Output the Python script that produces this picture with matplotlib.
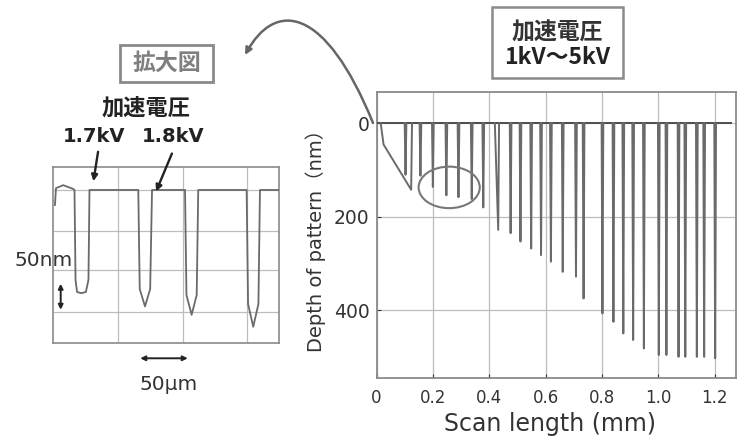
import matplotlib
matplotlib.use("Agg")
import matplotlib.pyplot as plt
from matplotlib.patches import Ellipse, Rectangle, FancyArrowPatch
from matplotlib.path import Path

# ---------------- data ----------------
# main chart: pattern positions (mm) and depths (nm)
spike_x = [0.103, 0.156, 0.200, 0.248, 0.291, 0.338, 0.379, 0.432, 0.476, 0.511,
           0.549, 0.584, 0.619, 0.661, 0.708, 0.735, 0.802, 0.841, 0.876, 0.911,
           0.949, 1.002, 1.029, 1.072, 1.096, 1.137, 1.163, 1.202]
spike_depth = [110, 112, 136, 154, 158, 162, 180, 228, 235, 253,
               268, 282, 296, 318, 328, 375, 407, 425, 450, 464,
               482, 496, 496, 500, 500, 500, 500, 503]
spike_wleft = [0.003] * 7 + [0.012] + [0.003] * 20
# first (lowest voltage) broad pattern
lead_x = [0.015, 0.025, 0.123, 0.126]
lead_depth = [0, 45, 142, 0]
xticks_main = [0, 0.2, 0.4, 0.6, 0.8, 1.0, 1.2]
xticklabels_main = ["0", "0.2", "0.4", "0.6", "0.8", "1.0", "1.2"]
yticks_main = [0, 200, 400]

# inset (enlarged view): trace in um / nm
inset_x = [1.6, 2.6, 9.5, 19.0, 20.5, 21.5, 23.0, 27.0, 31.5, 34.0, 35.0,
           82.2, 83.6, 88.7, 93.7, 95.5,
           127.4, 128.8, 133.8, 138.7, 140.2,
           187.0, 188.4, 193.4, 198.4, 199.9, 218.0]
inset_y = [25, -3, -8, -2, 0, 150, 170, 172, 170, 150, 0,
           0, 165, 194, 165, 0,
           0, 175, 208, 175, 0,
           0, 190, 228, 190, 0, 0]
inset_xgrid = [62.8, 125.6, 187.6]
inset_ygrid = [0, 67.8, 133.3, 202.8]

W, H = 743, 442
fig = plt.figure(figsize=(W / 100, H / 100), dpi=100)
fig.patch.set_facecolor("white")

def fx(px):
    return px / W

def fy(py):
    return 1 - py / H

GRID = "#bdbdbd"
FRAME = "#8a8a8a"
TRACE = "#6a6a6a"
TXT = "#333333"
CJK = ["Noto Sans CJK JP", "DejaVu Sans"]
LAT = ["DejaVu Sans", "Noto Sans CJK JP"]

# ---------------- main axes ----------------
l, r, t, b = 376.5, 736, 91.7, 378.3
ax = fig.add_axes([fx(l), fy(b), (r - l) / W, (b - t) / H])
ax.set_xlim(0.007, 1.276)
ax.set_ylim(546, -68)
ax.set_xticks(xticks_main)
ax.set_xticklabels(xticklabels_main)
ax.set_yticks(yticks_main)
ax.tick_params(axis="x", labelsize=12, colors=TXT, direction="in", length=3, pad=8)
ax.tick_params(axis="y", labelsize=13.5, colors=TXT, direction="in", length=3, pad=5)
for s in ax.spines.values():
    s.set_color(FRAME)
    s.set_linewidth(1.3)
ax.grid(True, color=GRID, linewidth=0.9)
ax.set_axisbelow(True)

ax.plot([0.007, 1.26], [0, 0], color="#4d4d4d", lw=1.4, zorder=3)
ax.plot(lead_x, lead_depth, color=TRACE, lw=1.4, zorder=3)
for x, d, wl in zip(spike_x, spike_depth, spike_wleft):
    ax.plot([x - wl, x, x + 0.003], [0, d, 0], color=TRACE, lw=1.4, zorder=3)

ax.add_patch(Ellipse((0.258, 137), 0.217, 89, fill=False, edgecolor="#777777", lw=1.5, zorder=4))

fig.text(fx(550), fy(424), "Scan length (mm)", ha="center", va="center",
         fontsize=17, color=TXT, family=LAT)
fig.text(fx(316), fy(236), "Depth of pattern（nm）", ha="center", va="center",
         rotation=90, fontsize=14, color=TXT, family=LAT)

# ---------------- inset axes ----------------
il, ir, it, ib = 53.3, 279.3, 167.3, 343
ax2 = fig.add_axes([fx(il), fy(ib), (ir - il) / W, (ib - it) / H])
ax2.set_xlim(0, 218.6)
ax2.set_ylim(255, -37.8)
ax2.set_xticks(inset_xgrid)
ax2.set_yticks(inset_ygrid)
ax2.tick_params(length=0, labelbottom=False, labelleft=False)
for s in ax2.spines.values():
    s.set_color(FRAME)
    s.set_linewidth(1.2)
ax2.grid(True, color=GRID, linewidth=0.9)
ax2.set_axisbelow(True)
ax2.plot(inset_x, inset_y, color=TRACE, lw=1.3, zorder=3)

# inset annotations
fig.text(fx(146), fy(108), "加速電圧", ha="center", va="center", fontsize=16,
         fontweight="bold", color="#222222", family=CJK)
fig.text(fx(94), fy(136), "1.7kV", ha="center", va="center", fontsize=14,
         fontweight="bold", color="#222222", family=LAT)
fig.text(fx(173), fy(136), "1.8kV", ha="center", va="center", fontsize=14,
         fontweight="bold", color="#222222", family=LAT)
for (x0, y0, x1, y1) in [(98.5, 149, 93, 184), (173, 151, 155, 194)]:
    fig.add_artist(FancyArrowPatch((fx(x0), fy(y0)), (fx(x1), fy(y1)),
                                   transform=fig.transFigure, arrowstyle="-|>",
                                   mutation_scale=9, color="#222222", lw=1.7))

fig.text(fx(44), fy(260), "50nm", ha="center", va="center", fontsize=14.5,
         color=TXT, family=LAT)
fig.add_artist(FancyArrowPatch((fx(60.7), fy(281)), (fx(60.7), fy(312.5)),
                               transform=fig.transFigure, arrowstyle="<|-|>",
                               mutation_scale=7, color="#222222", lw=1.4))
fig.text(fx(169), fy(385), "50µm", ha="center", va="center", fontsize=14.5,
         color=TXT, family=LAT)
fig.add_artist(FancyArrowPatch((fx(137.5), fy(358.3)), (fx(190.5), fy(358.3)),
                               transform=fig.transFigure, arrowstyle="<|-|>",
                               mutation_scale=7, color="#222222", lw=1.4))

# "拡大図" box
fig.add_artist(Rectangle((fx(120), fy(82)), (213 - 120) / W, (82 - 45) / H,
                         transform=fig.transFigure, fill=False, edgecolor="#8a8a8a", lw=2))
fig.text(fx(166.5), fy(63.5), "拡大図", ha="center", va="center", fontsize=16.5,
         fontweight="bold", color="#7f7f7f", family=CJK)

# top-right box
fig.add_artist(Rectangle((fx(491.7), fy(78.3)), (623.3 - 491.7) / W, (78.3 - 7.3) / H,
                         transform=fig.transFigure, fill=False, edgecolor="#8a8a8a", lw=1.8))
fig.text(fx(557), fy(33), "加速電圧", ha="center", va="center", fontsize=16.5,
         fontweight="bold", color="#333333", family=CJK)
fig.text(fx(557), fy(58), "1kV～5kV", ha="center", va="center", fontsize=16.5,
         fontweight="bold", color="#222222", family=CJK)

# curved arrow from main chart to enlarged view
verts = [(fx(373), fy(123)), (fx(325), fy(5)), (fx(275), fy(0)), (fx(245), fy(55))]
codes = [Path.MOVETO, Path.CURVE4, Path.CURVE4, Path.CURVE4]
fig.add_artist(FancyArrowPatch(path=Path(verts, codes), transform=fig.transFigure,
                               arrowstyle="-|>", mutation_scale=10, color="#666666", lw=1.8))

fig.savefig("out.png", dpi=100, facecolor="white")
